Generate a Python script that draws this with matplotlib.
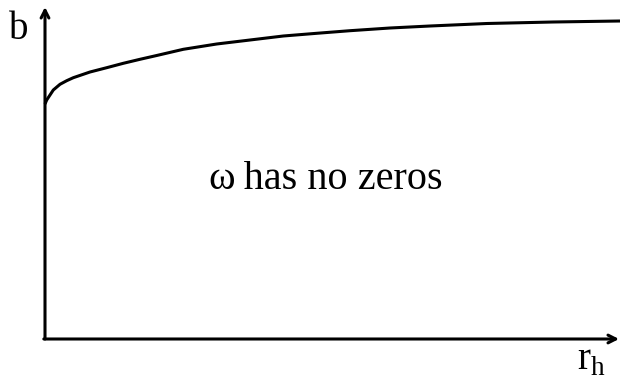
import numpy as np
import matplotlib
matplotlib.use('Agg')
import matplotlib.pyplot as plt

plt.rcParams['font.family'] = ['Liberation Serif', 'DejaVu Serif']
plt.rcParams['mathtext.fontset'] = 'custom'
plt.rcParams['mathtext.rm'] = 'Liberation Serif'

# boundary curve b(r_h)
r_h = [0.0, 0.017, 0.05, 0.083, 0.15, 0.217, 0.283, 0.45, 0.617, 0.783,
       0.95, 1.117, 1.383, 1.717, 2.05, 2.383, 2.717, 3.05, 3.45, 3.85,
       4.42, 5.08, 5.75]
b = [2.35, 2.39, 2.44, 2.49, 2.547, 2.583, 2.613, 2.67, 2.713, 2.757,
     2.797, 2.835, 2.897, 2.95, 2.99, 3.03, 3.057, 3.083, 3.11, 3.13,
     3.155, 3.17, 3.18]

lw = 2.2

fig = plt.figure(figsize=(6.2, 3.8), dpi=100)
ax = fig.add_axes([0, 0, 1, 1])
ax.set_xlim(-0.45, 5.75)
ax.set_ylim(-0.41, 3.39)
ax.axis('off')

ax.plot(r_h, b, color='black', lw=lw, solid_capstyle='butt',
        solid_joinstyle='round')

# axes with arrow heads
arrow = dict(arrowstyle='->,head_length=0.55,head_width=0.28', lw=lw,
             color='black', shrinkA=0, shrinkB=0)
ax.annotate('', xy=(0, 3.32), xytext=(0, 0), arrowprops=arrow,
            annotation_clip=False)
ax.annotate('', xy=(5.74, 0), xytext=(-0.012, 0), arrowprops=arrow,
            annotation_clip=False)

ax.text(-0.26, 3.00, 'b', fontsize=28, ha='center', va='baseline')
ax.text(5.32, -0.31, r'r$_\mathregular{h}$', fontsize=28, ha='left',
        va='baseline')
ax.text(2.81, 1.50, 'ω\u2009has no zeros', fontsize=29, ha='center',
        va='baseline')

plt.savefig('out.png', dpi=100)
